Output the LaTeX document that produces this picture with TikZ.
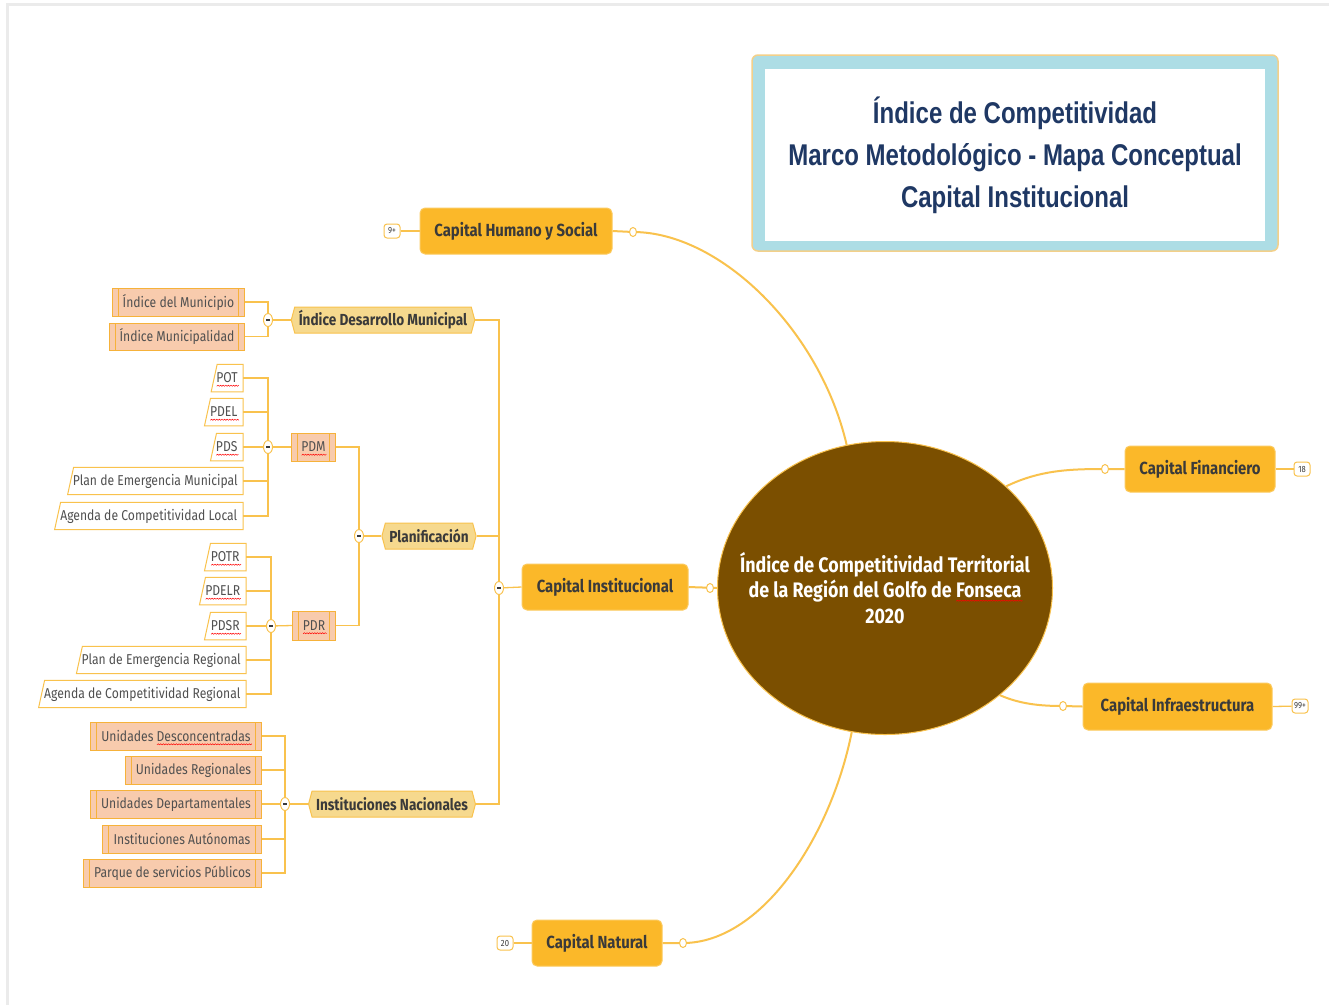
\documentclass[tikz,border=0pt]{standalone}
\usepackage{fontspec}
\setmainfont{Fira Sans}[FakeStretch=0.85]
\newfontfamily\titlefont{Liberation Sans}[FakeStretch=0.8]
\usetikzlibrary{shapes.geometric,shapes.symbols}
\newsavebox\sqbox
\newdimen\sqx
\newcount\sqn
\newcommand\sqwave[1]{\begin{pgfpicture}\pgfsetstrokecolor{red}\pgfsetlinewidth{0.5pt}%
  \pgfpathmoveto{\pgfpointorigin}\sqx=0pt\sqn=0
  \loop\advance\sqx by 1.3pt\advance\sqn by 1
    \ifodd\sqn\pgfpathlineto{\pgfpoint{\sqx}{1.1pt}}\else\pgfpathlineto{\pgfpoint{\sqx}{0pt}}\fi
  \ifdim\sqx<#1\repeat
  \pgfusepath{stroke}\end{pgfpicture}}
\newcommand\spellerr[1]{\sbox\sqbox{#1}\leavevmode\rlap{\raisebox{-3.6pt}[0pt][0pt]{\sqwave{\wd\sqbox}}}\usebox\sqbox}
\definecolor{mainorange}{HTML}{FBB829}
\definecolor{linecol}{HTML}{F9C24D}
\definecolor{yellowtwo}{HTML}{F6D98E}
\definecolor{salmon}{HTML}{F8CBAD}
\definecolor{salmonline}{HTML}{F6B23A}
\definecolor{brownc}{HTML}{7B4F00}
\definecolor{titleblue}{HTML}{ADDDE5}
\definecolor{titleedge}{HTML}{F3D08A}
\definecolor{textcol}{HTML}{3A3A3A}
\definecolor{childtext}{HTML}{505050}
\definecolor{navy}{HTML}{1F3864}
\definecolor{framegray}{HTML}{EBEBEB}
\pgfdeclarelayer{bg}
\pgfsetlayers{bg,main}
\tikzset{
  mainnode/.style={rectangle, rounded corners=5pt, fill=mainorange, draw=mainorange!75!white, line width=1pt,
    minimum height=46pt, inner xsep=6pt, font=\fontsize{17.5}{19}\selectfont\bfseries, text=textcol},
  lvtwo/.style={signal, signal to=west and east, signal pointer angle=150, fill=yellowtwo, draw=linecol,
    line width=1pt, minimum height=26pt, inner xsep=4pt, inner ysep=2pt, font=\fontsize{16}{17}\selectfont\bfseries, text=textcol},
  sbox/.style={rectangle, fill=salmon, draw=salmonline, line width=1pt, minimum height=28pt, inner xsep=9pt,
    font=\fontsize{14.3}{15}\selectfont, text=childtext,
    path picture={
      \draw[salmonline, line width=.8pt] ([xshift=6pt]path picture bounding box.north west) -- ([xshift=6pt]path picture bounding box.south west);
      \draw[salmonline, line width=.8pt] ([xshift=-6pt]path picture bounding box.north east) -- ([xshift=-6pt]path picture bounding box.south east);}},
  wbox/.style={rectangle, minimum height=27pt, inner xsep=5pt, font=\fontsize{14.3}{15}\selectfont, text=childtext},
  wline/.style={draw=linecol, line width=1pt, fill=white},
  link/.style={draw=linecol, line width=1.3pt},
  mainlink/.style={draw=linecol, line width=2pt},
  colc/.style={ellipse, draw=linecol, fill=white, line width=1pt, minimum width=9pt, minimum height=13pt, inner sep=0pt},
  dot/.style={ellipse, draw=linecol, fill=white, line width=1pt, minimum width=7pt, minimum height=9pt, inner sep=0pt},
  badge/.style={rectangle, rounded corners=3pt, draw=linecol, fill=white, line width=1pt, minimum width=16pt,
    minimum height=14pt, inner sep=1pt, font=\fontsize{9}{9}\selectfont, text=textcol},
}
\newcommand\minus{{\color{textcol}\rule{4pt}{1.4pt}}}
\begin{document}
\begin{tikzpicture}[x=1pt,y=-1pt]
\useasboundingbox (0,0) rectangle (1329,1005);
\begin{pgfonlayer}{bg}
\fill[white] (0,0) rectangle (1329,1005);
\draw[framegray, line width=3pt] (7,1005) -- (7,4) -- (1329,4);
\end{pgfonlayer}

% title
\node[rectangle, rounded corners=6pt, fill=titleblue, draw=titleedge, line width=1.5pt,
  minimum width=526pt, minimum height=196pt] (tframe) at (1015,153) {};
\node[rectangle, fill=white, minimum width=500pt, minimum height=172pt, align=center, text=navy,
  font=\titlefont\fontsize{30}{42}\selectfont\bfseries] (title) at (1015,155)
  {Índice de Competitividad\\Marco Metodológico - Mapa Conceptual\\Capital Institucional};

% central
\node[ellipse, fill=brownc, draw=linecol, line width=1pt, minimum width=335pt, minimum height=293pt,
  inner sep=0pt] (ctr) at (885,588) {};
\node[align=center, text=white, inner sep=0pt, font=\fontsize{21}{25.5}\selectfont\bfseries] (ctrtext) at (ctr.center)
  {Índice de Competitividad Territorial\\de la Región del Golfo de \spellerr{Fonseca}\\2020};

% main nodes
\node[mainnode, minimum width=192pt] (chs) at (516,231) {Capital Humano y Social};
\node[mainnode, minimum width=150pt] (fin) at (1200,469) {Capital Financiero};
\node[mainnode, minimum width=189pt, minimum height=47pt] (inf) at (1177.5,706.5) {Capital Infraestructura};
\node[mainnode, minimum width=130pt] (nat) at (597,943) {Capital Natural};
\node[mainnode, minimum width=166pt] (cin) at (605,587) {Capital Institucional};

% badges
\node[badge] (b1) at (392,231) {9+};
\node[badge] (b2) at (1302,469) {18};
\node[badge] (b3) at (1300,706) {99+};
\node[badge] (b4) at (505,943) {20};

% dots on main connectors
\node[dot] (d1) at (633,232) {};
\node[dot] (d2) at (1105,469) {};
\node[dot] (d3) at (1063,706) {};
\node[dot] (d4) at (683,943) {};
\node[dot] (d5) at (710,588) {};

% level 2
\node[lvtwo, minimum width=182pt] (idm) at (383,320) {Índice Desarrollo Municipal};
\node[lvtwo, minimum width=90pt] (plan) at (429,536) {Planificación};
\node[lvtwo, minimum width=164pt] (inn) at (392,804) {Instituciones Nacionales};

% collapse circles
\node[colc] (cinc) at (499,588) {\minus};
\node[colc] (idmc) at (268,320) {\minus};
\node[colc] (planc) at (359,536) {\minus};
\node[colc] (innc) at (285,804) {\minus};
\node[colc] (pdmc) at (268,447) {\minus};
\node[colc] (pdrc) at (271,626) {\minus};

% salmon boxes
\node[sbox, minimum width=132pt, anchor=east] (im1) at (245,302) {Índice del Municipio};
\node[sbox, minimum width=135pt, minimum height=27pt, anchor=east] (im2) at (245,336.5) {Índice Municipalidad};
\node[sbox, minimum width=44pt, anchor=east] (pdm) at (336,447) {\spellerr{PDM}};
\node[sbox, minimum width=43pt, minimum height=29pt, anchor=east] (pdr) at (336,625.5) {\spellerr{PDR}};
\node[sbox, minimum width=171pt, anchor=east] (ud) at (262,736) {Unidades \spellerr{Desconcentradas}};
\node[sbox, minimum width=136pt, anchor=east] (ur) at (262,770) {Unidades Regionales};
\node[sbox, minimum width=171pt, anchor=east] (udep) at (262,804) {Unidades Departamentales};
\node[sbox, minimum width=159pt, anchor=east] (ia) at (262,839) {Instituciones Autónomas};
\node[sbox, minimum width=178pt, anchor=east] (psp) at (262,873) {Parque de servicios Públicos};

% white boxes
\node[wbox, minimum width=31pt, anchor=east] (pot) at (243,378) {\spellerr{POT}};
\node[wbox, minimum width=38pt, anchor=east] (pdel) at (243,412) {\spellerr{PDEL}};
\node[wbox, minimum width=32pt, anchor=east] (pds) at (243,447) {\spellerr{PDS}};
\node[wbox, minimum width=175pt, anchor=east] (pem) at (243,481) {Plan de Emergencia Municipal};
\node[wbox, minimum width=188pt, anchor=east] (acl) at (243,516) {Agenda de Competitividad Local};
\node[wbox, minimum width=41pt, anchor=east] (potr) at (246,557) {\spellerr{POTR}};
\node[wbox, minimum width=46pt, anchor=east] (pdelr) at (246,591) {\spellerr{PDELR}};
\node[wbox, minimum width=41pt, anchor=east] (pdsr) at (246,626) {\spellerr{PDSR}};
\node[wbox, minimum width=169pt, anchor=east] (per) at (246,660) {Plan de Emergencia Regional};
\node[wbox, minimum width=207pt, anchor=east] (acr) at (246,694) {Agenda de Competitividad Regional};

\begin{pgfonlayer}{bg}
  % white box outlines (slanted left edge)
  \foreach \n in {pot,pdel,pds,pem,acl,potr,pdelr,pdsr,per,acr}
    \draw[wline] ([xshift=6pt]\n.north west) -- (\n.north east) -- (\n.south east) -- (\n.south west) -- cycle;
  % main connectors
  \draw[mainlink] (ctr.105) .. controls (820,330) and (720,232) .. (d1.center) -- (chs.east);
  \draw[mainlink] (ctr.40) .. controls (1040,470) and (1070,469) .. (d2.center) -- (fin.west);
  \draw[mainlink] (ctr.-43) .. controls (1020,704) and (1040,706) .. (d3.center) -- (inf.west);
  \draw[mainlink] (ctr.257) .. controls (830,840) and (760,943) .. (d4.center) -- (nat.east);
  \draw[mainlink] (ctr.west) -- (cin.east);
  \draw[link] (b1) -- (chs.west);
  \draw[link] (fin.east) -- (b2);
  \draw[link] (inf.east) -- (b3);
  \draw[link] (b4) -- (nat.west);
  % tree
  \draw[link] (cin.west) -- (cinc.center);
  \draw[link] (cinc.center) |- (idm.east);
  \draw[link] (cinc.center) |- (plan.east);
  \draw[link] (cinc.center) |- (inn.east);
  \draw[link] (idmc.center) -- (idm.west);
  \foreach \n in {im1,im2} \draw[link] (idmc.center) |- (\n.east);
  \draw[link] (planc.center) -- (plan.west);
  \foreach \n in {pdm,pdr} \draw[link] (planc.center) |- (\n.east);
  \draw[link] (pdmc.center) -- (pdm.west);
  \foreach \n in {pot,pdel,pds,pem,acl} \draw[link] (pdmc.center) |- (\n.east);
  \draw[link] (pdrc.center) -- (pdr.west);
  \foreach \n in {potr,pdelr,pdsr,per,acr} \draw[link] (pdrc.center) |- (\n.east);
  \draw[link] (innc.center) -- (inn.west);
  \foreach \n in {ud,ur,udep,ia,psp} \draw[link] (innc.center) |- (\n.east);
\end{pgfonlayer}
\end{tikzpicture}
\end{document}
